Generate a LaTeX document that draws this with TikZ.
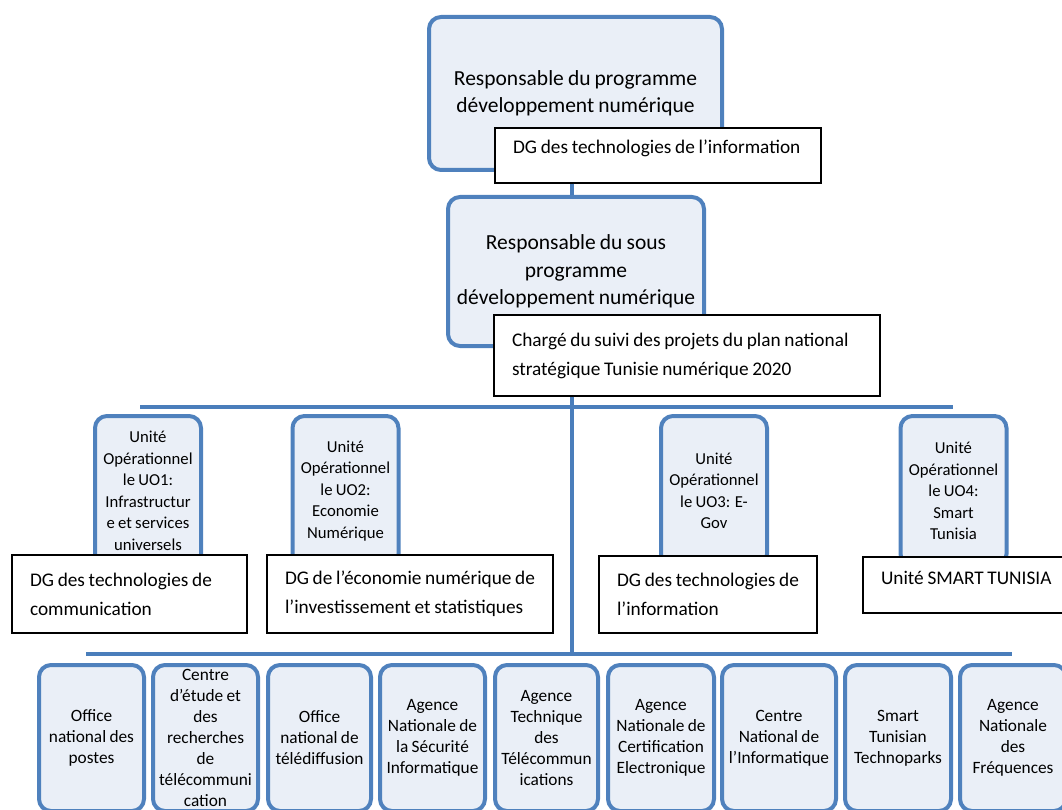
\documentclass[tikz,border=0pt]{standalone}
\usepackage{fontspec}
\setmainfont{Carlito}[WordSpace=0.85]
\definecolor{bordblue}{HTML}{4F81BD}
\definecolor{fillblue}{HTML}{EAEFF7}
\definecolor{linkblue}{HTML}{4A7EBB}
\tikzset{
  rbox/.style={draw=bordblue, line width=4pt, fill=fillblue, rounded corners=12pt,
    align=center, inner sep=0pt, text=black},
  wbox/.style={draw=black, line width=1.2pt, fill=white, align=flush left,
    inner xsep=18pt, inner ysep=0pt, text=black},
  link/.style={draw=linkblue, line width=4pt},
  bigtxt/.style={font=\fontsize{21.5}{27.5}\selectfont},
  dgtxt/.style={font=\fontsize{19.3}{29}\selectfont},
  uotxt/.style={font=\fontsize{16.7}{21.5}\selectfont},
  bottxt/.style={font=\fontsize{17.3}{21}\selectfont},
  uobox/.style={rbox, uotxt, minimum width=106pt, minimum height=150pt},
  botbox/.style={rbox, bottxt, minimum height=146pt},
}
\begin{document}
\begin{tikzpicture}[x=1pt,y=-1pt]
\useasboundingbox (0,0) rectangle (1062,810);
% coordinates for connectors
\coordinate (tx) at (572,0);
\coordinate (ubL) at (140,407);
\coordinate (ubR) at (953,407);
\coordinate (bbL) at (86,654);
\coordinate (bbR) at (1012,654);

% top level
\node[rbox, bigtxt, minimum width=293pt, minimum height=153pt] (r1) at (575.5,93.5)
  {Responsable du programme\\développement numérique};
\node[wbox, dgtxt, text width=290pt, minimum height=55pt] (dg0) at (658,155.5)
  {\raisebox{7pt}[\height][\depth]{DG des technologies de l’information}};

% second level
\node[rbox, bigtxt, minimum width=256pt, minimum height=149pt] (r2) at (576,271.5)
  {Responsable du sous\\programme\\développement numérique};
\node[wbox, dgtxt, text width=350pt, minimum height=81pt] (ch) at (687,355.5)
  {Chargé du suivi des projets du plan national\\stratégique Tunisie numérique 2020};

% connectors
\draw[link] (tx |- dg0.south) -- (tx |- r2.north);
\draw[link] (ubL) -- (ubR);
\draw[link] (tx |- ch.south) -- (tx |- bbL);
\draw[link] (bbL) -- (bbR);

% operational units
\node[uobox] (uo1) at (148,491)
  {Unité\\Opérationnel\\le UO1:\\Infrastructur\\e et services\\universels};
\node[uobox] (uo2) at (345.5,491)
  {Unité\\Opérationnel\\le UO2:\\Economie\\Numérique};
\node[uobox] (uo3) at (714,491)
  {Unité\\Opérationnel\\le UO3: E-\\Gov};
\node[uobox] (uo4) at (953.5,491)
  {Unité\\Opérationnel\\le UO4:\\Smart\\Tunisia};

% DG boxes
\node[wbox, dgtxt, text width=199pt, minimum height=78pt] (dg1) at (129.5,594)
  {DG des technologies de\\communication};
\node[wbox, dgtxt, text width=250pt, minimum height=78pt] (dg2) at (410,594)
  {DG de l’économie numérique de\\l’investissement et statistiques};
\node[wbox, dgtxt, text width=182pt, minimum height=77pt] (dg3) at (708,594.5)
  {DG des technologies de\\l’information};
\node[wbox, dgtxt, text width=169pt, minimum height=56pt] (dg4) at (965.5,585)
  {\raisebox{7pt}[\height][\depth]{Unité SMART TUNISIA}};

% bottom row
\node[botbox, minimum width=105pt] (b1) at (91.5,738) {Office\\national des\\postes};
\node[botbox, minimum width=105pt] (b2) at (205.5,738)
  {Centre\\d'étude et\\des\\recherches\\de\\télécommuni\\cation};
\node[botbox, minimum width=103pt] (b3) at (319.5,738) {Office\\national de\\télédiffusion};
\node[botbox, minimum width=105pt] (b4) at (432.5,738)
  {Agence\\Nationale de\\la Sécurité\\Informatique};
\node[botbox, minimum width=103pt] (b5) at (546.5,738)
  {Agence\\Technique\\des\\Télécommun\\ications};
\node[botbox, minimum width=106pt] (b6) at (661,738)
  {Agence\\Nationale de\\Certification\\Electronique};
\node[botbox, minimum width=114pt] (b7) at (779,738)
  {Centre\\National de\\l’Informatique};
\node[botbox, minimum width=106pt] (b8) at (898,738)
  {Smart\\Tunisian\\Technoparks};
\node[botbox, minimum width=106pt] (b9) at (1013,738)
  {Agence\\Nationale\\des\\Fréquences};
\end{tikzpicture}
\end{document}
